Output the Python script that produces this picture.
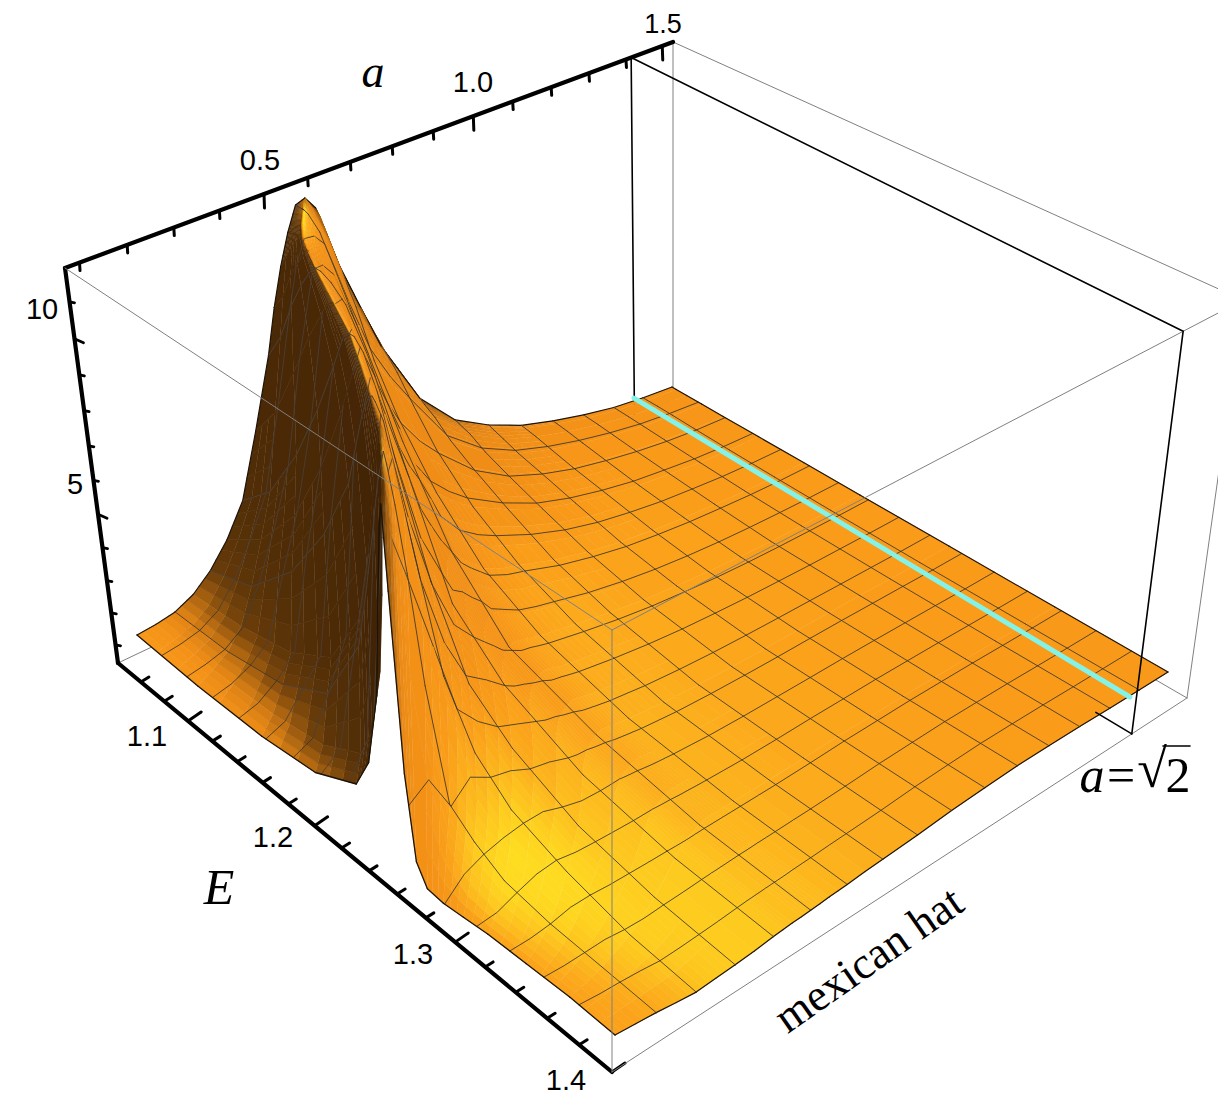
import numpy as np, pandas as pd, altair as alt
alt.data_transformers.disable_max_rows()

# ---- data -----------------------------------------------------------------
row_idx = [0,.5,1,1.5,2,2.5,3,3.5,4,4.25,4.5,4.75,5,5.25,5.5,5.75,6,6.5,7,8,9,10,11,12,13,14,15,16]   # a mesh rows (in 1/16)
ridge_i = [9.7,9.1,8.45,7.7,6.75,5.75,4.7,3.45,2.15,1.5,1.0,.6,.3,0]                     # ridge position (in 1/16 of E)
left_frac  = [0,.25,.5,.7,.85,.9,.945,.97,.99]
right_frac = [0,.01,.035,.07,.12,.2,.3,.42,.6,.8,1]
left_h = [
 [0,0,.1,.35,1.0,1.9,4,6.7,8.8],
 [.05,.1,.25,.55,1.2,2.1,4,6.2,8.6],
 [.15,.25,.6,1.4,3.5,5.4,7.4,8.6,9.3],
 [.4,.6,1.0,1.8,3.6,5.2,7.4,8.7,9.4],
 [.85,1.35,2.75,4.6,6.6,7.8,8.9,9.3,9.55],
 [1.5,2.3,3.8,5.8,7.8,8.6,9.3,9.5,9.6],
 [2.4,3.3,5,6.8,8.4,9,9.5,9.6,9.7],
 [4.2,5.2,6.8,8.2,9.1,9.4,9.6,9.65,9.7],
 [6.2,7,8.2,9,9.5,9.65,9.75,9.8,9.8],
 [7.5,8,8.8,9.3,9.65,9.8,9.85,9.9,9.9],
 [8.6,9,9.4,9.7,9.8,9.9,9.9,9.9,9.9],
 [9.5,9.6,9.8,9.9,9.95,10,10,10,10],
 [10.2,10.2,10.2,10.2,10.2,10.2,10.2,10.2,10.2],
 [10.3,10.3,10.3,10.3,10.3,10.3,10.3,10.3,10.3],
]
right_h = [
 [9.5,7.2,2.4,.2,-.3,-.33,-.25,-.15,-.08,0,0],
 [9.5,9,7.2,4.6,2.2,.6,.0,-.15,-.1,-.06,-.06],
 [9.6,9.3,8.3,6.6,3.8,1.0,.5,.1,-.05,-.08,-.12],
 [9.6,9.5,8.9,7.6,5.5,3.0,1.0,.4,.1,-.1,-.2],
 [9.6,9.5,9.1,7.7,5.8,3.0,1.5,.7,.2,-.15,-.27],
 [9.65,9.6,9.3,8.2,6.2,3.6,1.85,1.0,.22,-.14,-.25],
 [9.7,9.7,9.4,8.5,6.6,4.05,1.9,1.0,.25,-.1,-.23],
 [9.7,9.7,9.45,8.6,7.5,4.5,2.2,1.2,.3,-.07,-.2],
 [9.8,9.8,9.65,9.25,8.1,5.5,2.5,1.25,.35,-.04,-.15],
 [9.85,9.85,9.72,9.27,8.05,5.45,2.7,1.22,.4,-.03,-.13],
 [9.9,9.9,9.8,9.3,8,5.4,2.85,1.2,.45,-.02,-.12],
 [10,9.97,9.8,9.05,7.65,5.2,2.8,1.15,.42,-.01,-.11],
 [10.2,10.15,9.8,8.8,7.3,5.0,2.7,1.1,.4,0,-.1],
 [10.3,10.2,9.7,8.3,6.8,4.7,2.4,1.0,.35,0,-.09],
 [9.9,9.7,8.9,7.3,5.7,3.7,2.1,.95,.3,0,-.07],
 [8.95,8.7,7.9,6.5,5,3.3,1.85,.87,.26,0,-.06],
 [8,7.7,7,5.7,4.4,2.9,1.6,.8,.22,0,-.05],
 [6.5,6.3,5.7,4.7,3.6,2.4,1.35,.7,.17,0,-.02],
 [5.1,5,4.6,3.9,3.0,2.0,1.2,.6,.12,0,0],
 [3.1,3.0,2.8,2.4,2.0,1.45,.85,.42,.07,.02,.04],
 [2,1.95,1.85,1.6,1.35,1.0,.6,.28,.04,.05,.1],
 [1.4,1.35,1.25,1.1,.95,.7,.4,.18,.03,.06,.13],
 [.95,.93,.88,.78,.65,.48,.27,.1,.03,.07,.15],
 [.65,.64,.6,.53,.44,.3,.17,.05,.03,.06,.13],
 [.4,.39,.37,.33,.27,.19,.1,.02,.02,.05,.1],
 [.2,.2,.19,.17,.14,.09,.04,.01,.01,.03,.06],
 [.08,.08,.08,.07,.05,.03,.01,0,0,.01,.03],
 [0,0,0,0,0,0,0,0,0,0,0],
]
a_ticks = [round(.1*i,1) for i in range(1,16)]
a_major = [.5,1.0,1.5]
E_ticks = [round(1.06+.02*i,2) for i in range(0,18)]
E_major = [1.1,1.2,1.3,1.4]
z_ticks = list(range(1,12))
z_major = [5,10]
a_cyan_u = .918
frame_u_front = .888

# ---- view geometry (perspective of the box, in picture pixels) -------------
surf_corners = [(137,635),(615,1035),(1168,672),(672,387)]     # (u,v)=(0,0),(0,1),(1,1),(1,0)
floor_corners = [(118,663),(612,1072),(1187,698),(673,400)]
top_corners = [(65,268),(612,630),(1243,300),(673,42)]
lift_scale = [34.5,39,36.5,32]
vanish = (637,4538)

def hom(pts):
    src=[(0,0),(0,1),(1,1),(1,0)]
    A=[];b=[]
    for (s,t),(x,y) in zip(src,pts):
        A.append([s,t,1,0,0,0,-s*x,-t*x]);b.append(x)
        A.append([0,0,0,s,t,1,-s*y,-t*y]);b.append(y)
    h=np.linalg.solve(np.array(A,float),np.array(b,float))
    def f(u,v):
        w=h[6]*u+h[7]*v+1
        return (h[0]*u+h[1]*v+h[2])/w,(h[3]*u+h[4]*v+h[5])/w
    return f
H_s,H_f,H_t=hom(surf_corners),hom(floor_corners),hom(top_corners)

def project(u,v,h):
    bx,by=H_s(u,v)
    s=(1-u)*(1-v)*lift_scale[0]+(1-u)*v*lift_scale[1]+u*v*lift_scale[2]+u*(1-v)*lift_scale[3]
    L=h*s
    return bx-L*(bx-vanish[0])/(by-vanish[1]),by-L

# ---- mesh ------------------------------------------------------------------
nrow=len(row_idx); nl=len(left_frac); nr=len(right_frac)
V=np.zeros((nrow,nl+nr)); Z=np.zeros((nrow,nl+nr))
for j in range(nrow):
    r=(ridge_i[j] if j<len(ridge_i) else 0)/16
    V[j,:nl]=np.array(left_frac)*r
    V[j,nl:]=r+np.array(right_frac)*(1-r)
    Z[j,:nl]=left_h[j] if j<len(left_h) else right_h[j][0]
    Z[j,nl:]=right_h[j]
U=np.array(row_idx)/16
K=.06
Hv=np.zeros_like(Z)
for j in range(nrow):
    vv=V[j];zz=Z[j]
    for k in range(len(vv)):
        a=max(k-1,0);b=min(k+1,len(vv)-1)
        while vv[b]-vv[a]<1e-6 and b<len(vv)-1: b+=1
        Hv[j,k]=(zz[b]-zz[a])/max(vv[b]-vv[a],1e-6)
Hu=np.gradient(Z,U,axis=0)-Hv*np.gradient(V,U,axis=0)
nx,ny=-K*Hu,-K*Hv
nn=np.sqrt(nx**2+ny**2+1)
lu=np.zeros_like(Z); lu[:,nl:]=-.25
lv,lz=.35,.935
B=(nx*lu+ny*lv+lz)/nn
E_=B+.25*np.maximum(0,ny/nn)
# the side of the ridge that faces the light stays orange, as in the picture
E_[:,nl+1:]=np.maximum(E_[:,nl+1:],.86)
E_=np.where(nn>1.6,np.minimum(E_,.95),E_)
for _ in range(2):
    S=E_.copy()
    S[1:-1,nl+1:]=.25*E_[:-2,nl+1:]+.5*E_[1:-1,nl+1:]+.25*E_[2:,nl+1:]
    S[:,nl+1:-1]=.25*S[:,nl:-2]+.5*S[:,nl+1:-1]+.25*S[:,nl+2:]
    E_=S
S=E_.copy()
S[1:-1,:nl-2]=.25*E_[:-2,:nl-2]+.5*E_[1:-1,:nl-2]+.25*E_[2:,:nl-2]
E_=S
for j in range(nrow):
    E_[j]+=.05*(1-U[j])*V[j]
ramp_t=[-.2,.2,.5,.6,.7,.8,.87,.92,.935,.97,1.0,1.04,1.09]
ramp_c=np.array([(58,30,4),(80,45,7),(95,55,9),(115,65,10),(170,100,16),(215,125,20),(238,140,22),(247,150,24),(250,155,25),(252,170,28),(253,192,30),(254,218,32),(255,235,35)],float)
def col(t):
    return np.array([np.interp(t,ramp_t,ramp_c[:,c]) for c in range(3)])
def hx(c):
    return "#%02x%02x%02x"%tuple(int(round(x)) for x in c)

rows=[]; gid=[0]
def add_poly(pts,fill,stroke,w):
    gid[0]+=1
    for o,(x,y) in enumerate(pts):
        rows.append((round(x,1),round(y,1),gid[0],o,fill,stroke,w))
WIRE="#3a3428"; EDGE="#1c1408"; WIRE_DARK="#48403a"
def at(j,vw):
    if vw>=V[j,nl-1]:
        return np.interp(vw,V[j,nl-1:],Z[j,nl-1:])
    return np.interp(vw,V[j,:nl],Z[j,:nl])
def wire_col(e):
    return WIRE_DARK if e<.65 else WIRE
for j in range(nrow-2,-1,-1):
    P=lambda jj,kk:project(U[jj],V[jj,kk],Z[jj,kk])
    for k in range(nl+nr-1):
        v00,v01,v10,v11=V[j,k],V[j,k+1],V[j+1,k],V[j+1,k+1]
        if max(v01-v00,v11-v10)<1e-6: continue
        p00,p01,p11,p10=P(j,k),P(j,k+1),P(j+1,k+1),P(j+1,k)
        c00,c01,c11,c10=col(E_[j,k]),col(E_[j,k+1]),col(E_[j+1,k+1]),col(E_[j+1,k])
        n=3
        if max(abs(c00-c11).max(),abs(c01-c10).max())<6: n=1
        for a in range(n):
            for b in range(n):
                def pt(s,t):
                    return ((1-s)*(1-t)*p00[0]+(1-s)*t*p01[0]+s*t*p11[0]+s*(1-t)*p10[0],
                            (1-s)*(1-t)*p00[1]+(1-s)*t*p01[1]+s*t*p11[1]+s*(1-t)*p10[1])
                s0,s1,t0,t1=a/n,(a+1)/n,b/n,(b+1)/n
                sm,tm=(s0+s1)/2,(t0+t1)/2
                c=(1-sm)*(1-tm)*c00+(1-sm)*tm*c01+sm*tm*c11+sm*(1-tm)*c10
                h=hx(c)
                add_poly([pt(s0,t0),pt(s0,t1),pt(s1,t1),pt(s1,t0)],h,h,.6)
    # wires of this band go after all of its cells
    for i in range(0,17):
        vw=i/16
        ke=min(int(np.searchsorted(V[j],vw)),nl+nr-1)
        w,cw=(1.2,EDGE) if i in (0,16) else (.85,wire_col(E_[j,ke]))
        add_poly([project(U[j],vw,at(j,vw)),project(U[j+1],vw,at(j+1,vw))],"none",cw,w)
    for k in range(nl+nr-1):
        if float(row_idx[j+1]).is_integer() and V[j+1,k+1]-V[j+1,k]>1e-6:
            w,cw=(1.2,EDGE) if row_idx[j+1]==16 else (.85,wire_col(E_[j+1,k]))
            add_poly([P(j+1,k),P(j+1,k+1)],"none",cw,w)
        if j==0:
            add_poly([P(0,k),P(0,k+1)],"none",EDGE,1.3)
surf=pd.DataFrame(rows,columns=["x","y","id","o","f","s","w"])

# ---- scales ---------------------------------------------------------------
sx=alt.Scale(domain=[8,1218],range=[0,1210],nice=False,zero=False)
sy=alt.Scale(domain=[8,1096],range=[0,1088],nice=False,zero=False)
X=alt.X("x:Q",scale=sx,axis=None); Y=alt.Y("y:Q",scale=sy,axis=None)

surface=alt.Chart(surf).mark_line(filled=True,strokeCap="round",strokeJoin="round").encode(
    x=X,y=Y,detail="id:N",order=alt.Order("o:Q"),
    fill=alt.Fill("f:N",scale=None),stroke=alt.Stroke("s:N",scale=None),
    strokeWidth=alt.StrokeWidth("w:Q",scale=None))

def rules(lst):
    d=pd.DataFrame(lst,columns=["x","y","x2","y2","c","w"])
    return alt.Chart(d).mark_rule(strokeCap="round",clip=True).encode(x=X,y=Y,x2="x2:Q",y2="y2:Q",
        color=alt.Color("c:N",scale=None),strokeWidth=alt.StrokeWidth("w:Q",scale=None))
def seg(p,q,c,w): return (p[0],p[1],q[0],q[1],c,w)

GR="#808080"; BK="#000000"
ua=lambda a:(a-.07)/1.46
vE=lambda E:(E-1.04)/.36
def zt(z):
    t=(z-.42)/11.48; c=.91
    return t*c/(1+t*(c-1))
A,B_,C,D=floor_corners; A1,B1,C1,D1=top_corners
usq=ua(2**.5)
pT0,pT1,pF0,pF1=H_t(usq,0),H_t(frame_u_front,1),H_f(usq,0),H_f(frame_u_front,1)
pF2=H_f(frame_u_front,.94)
back=[seg(D1,D,GR,1),seg(D1,C1,GR,1),seg(A,D,GR,1),seg(D,C,GR,1),
      seg(pT0,pF0,BK,1.6),seg(pT0,pT1,BK,1.6)]
axes=[seg(A1,D1,BK,4.2),seg(A1,A,BK,4.2),seg(A,B_,BK,4.2)]
for a in a_ticks:
    p=H_t(ua(a),0); m=a in a_major
    axes.append(seg(p,(p[0]+.5,p[1]+(14 if m else 8)),BK,3))
for E in E_ticks:
    p=H_f(0,vE(E)); m=E in E_major
    axes.append(seg(p,(p[0]+(13 if m else 8),p[1]-(9 if m else 5)),BK,3))
for z in z_ticks:
    t=zt(z); p=(A[0]+(A1[0]-A[0])*t,A[1]+(A1[1]-A[1])*t); m=z in z_major
    axes.append(seg(p,(p[0]+(9 if m else 5),p[1]+(4 if m else 1)),BK,2.8))
front=[seg(A1,B1,GR,1),seg(B1,B_,GR,1),seg(B1,C1,GR,1),seg(C1,C,GR,1),seg(B_,C,GR,1),
       seg(pT1,pF1,BK,1.6),seg(pF1,pF2,BK,1.6)]
pc0,pc1=project(a_cyan_u,0,.2),project(a_cyan_u,1,0)
cyan=[seg(pc0,pc1,"#84f2e6",5)]
rad=[(1163,746,1190,746,BK,1.6)]

def text(lst,font,size,style="normal",angle=0):
    d=pd.DataFrame(lst,columns=["x","y","t"])
    return alt.Chart(d).mark_text(font=font,fontSize=size,fontStyle=style,angle=angle,align="center",baseline="middle",color="#000000").encode(x=X,y=Y,text="t:N")
labels=[(147,737,"1.1"),(273,838,"1.2"),(413,955,"1.3"),(566,1081,"1.4"),
        (260,161,"0.5"),(473,83,"1.0"),(42,310,"10"),(75,485,"5")]
layers=[rules(back),rules(axes),surface,rules(cyan),rules(front),rules(rad),
  text(labels,"Liberation Sans",29),
  text([(663,25,"1.5")],"Liberation Sans",27),
  text([(373,73,"a")],"Liberation Serif",46,"italic"),
  text([(219,889,"E")],"Liberation Serif",50,"italic"),
  text([(869,960,"mexican hat")],"Liberation Serif",45,"normal",325),
  text([(1092,777,"a")],"Liberation Serif",50,"italic"),
  text([(1121,777,"=")],"Liberation Serif",50),
  text([(1152,771,"√")],"Liberation Serif",54),
  text([(1178,777,"2")],"Liberation Serif",50)]
chart=alt.layer(*layers).properties(width=1210,height=1088,padding=0,autosize=alt.AutoSizeParams(type="none")).configure_view(stroke=None)
chart.save("out.html",embed_options={"renderer":"svg","actions":False})
